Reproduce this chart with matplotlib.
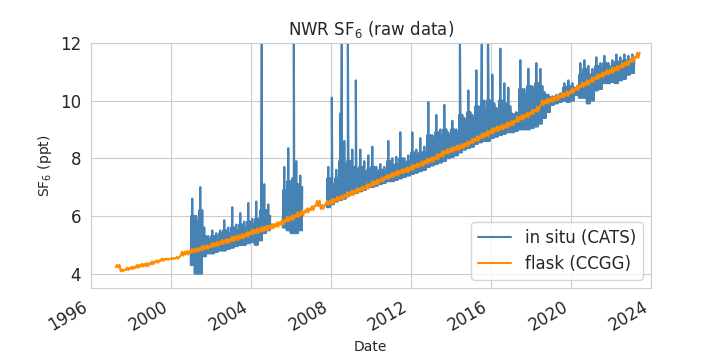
import numpy as np
import matplotlib
matplotlib.use("Agg")
import matplotlib.pyplot as plt
import seaborn as sns

# ---------------- data ----------------
# in situ (CATS): per 0.2-year bin, lower edge, typical upper edge of the dense band,
# and the highest excursion in the bin
insitu_year = [2001.0, 2001.2, 2001.4, 2001.6, 2001.8, 2002.0, 2002.2, 2002.4, 2002.6, 2002.8,
               2003.0, 2003.2, 2003.4, 2003.6, 2003.8, 2004.0, 2004.2, 2004.4, 2004.6, 2004.8,
               2005.6, 2005.8, 2006.0, 2006.2, 2006.4,
               2007.8, 2008.0, 2008.2, 2008.4, 2008.6, 2008.8, 2009.0, 2009.2, 2009.4, 2009.6,
               2009.8, 2010.0, 2010.2, 2010.4, 2010.6, 2010.8, 2011.0, 2011.2, 2011.4, 2011.6,
               2011.8, 2012.0, 2012.2, 2012.4, 2012.6, 2012.8, 2013.0, 2013.2, 2013.4, 2013.6,
               2013.8, 2014.0, 2014.2, 2014.4, 2014.6, 2014.8, 2015.0, 2015.2, 2015.4, 2015.6,
               2015.8, 2016.0, 2016.2, 2016.4, 2016.6, 2016.8, 2017.0, 2017.2, 2017.4, 2017.6,
               2017.8, 2018.0, 2018.2, 2018.4, 2018.6, 2018.8, 2019.0, 2019.2, 2019.4, 2019.6,
               2019.8, 2020.0, 2020.2, 2020.4, 2020.6, 2020.8, 2021.0, 2021.2, 2021.4, 2021.6,
               2021.8, 2022.0, 2022.2, 2022.4, 2022.6, 2022.8, 2023.0]
insitu_low = [4.3, 4.0, 4.0, 4.6, 4.7, 4.7, 4.75, 4.8, 4.8, 4.85,
              4.9, 4.95, 5.0, 5.0, 5.05, 5.1, 5.0, 5.15, 5.4, 5.5,
              5.6, 5.5, 5.4, 5.4, 5.5,
              6.3, 6.4, 6.5, 6.55, 6.6, 6.7, 6.75, 6.8, 6.85, 6.9,
              7.0, 7.0, 7.05, 7.1, 7.15, 7.2, 7.2, 7.25, 7.3, 7.35,
              7.4, 7.45, 7.5, 7.55, 7.6, 7.7, 7.75, 7.8, 7.85, 7.9,
              8.0, 8.05, 8.1, 8.2, 8.3, 8.35, 8.4, 8.5, 8.55, 8.6,
              8.6, 8.7, 8.75, 8.8, 8.85, 8.9, 8.9, 8.95, 9.0, 9.0,
              9.0, 9.05, 9.1, 9.2, 9.4, 9.6, 9.85, 9.9, 9.95, 10.0,
              9.95, 10.0, 10.2, 10.1, 10.1, 9.9, 10.0, 10.35, 10.4, 10.6,
              10.6, 10.65, 10.6, 10.7, 10.75, 10.9, 10.95]
insitu_typ = [6.0, 5.8, 6.2, 5.3, 5.2, 5.3, 5.3, 5.4, 5.5, 5.4,
              5.6, 5.5, 5.7, 5.6, 5.8, 5.7, 5.9, 5.8, 6.2, 6.0,
              6.9, 7.2, 6.9, 7.1, 7.0,
              7.3, 7.1, 7.3, 7.9, 7.8, 7.9, 7.7, 7.6, 7.7, 7.5,
              7.6, 7.7, 7.5, 7.6, 7.55, 7.9, 7.75, 7.8, 8.0, 7.85,
              7.9, 8.2, 8.1, 8.2, 8.2, 8.8, 8.7, 8.9, 8.8, 9.0,
              8.8, 9.0, 8.9, 9.5, 9.3, 9.6, 9.4, 9.8, 9.6, 9.7,
              10.0, 9.9, 9.7, 10.0, 9.9, 9.8, 9.5, 9.55, 10.4, 10.2,
              10.5, 10.4, 10.6, 10.5, 10.2, 10.1, 10.12, 10.15, 10.2, 10.45,
              10.5, 10.45, 10.4, 10.9, 11.1, 10.9, 10.9, 11.2, 11.1, 11.3,
              11.15, 11.2, 11.35, 11.3, 11.4, 11.35, 11.45]
insitu_high = [6.6, 6.0, 7.0, 5.6, 5.3, 5.5, 5.4, 5.5, 5.85, 5.6,
               6.3, 5.7, 6.1, 5.8, 6.45, 5.9, 6.5, 6.2, 7.1, 6.4,
               7.7, 8.35, 7.3, 7.9, 7.4,
               7.7, 7.4, 7.6, 9.55, 8.6, 9.0, 8.3, 8.0, 8.3, 7.9,
               8.1, 8.4, 7.7, 7.8, 7.7, 8.6, 8.0, 8.05, 8.9, 8.0,
               8.1, 8.9, 8.3, 8.7, 8.4, 9.95, 8.8, 9.5, 9.0, 9.85,
               8.9, 9.3, 9.0, 10.3, 9.4, 10.35, 9.5, 11.05, 9.8, 10.0,
               11.6, 10.9, 9.75, 11.8, 10.6, 10.45, 9.55, 9.6, 11.4, 10.4,
               11.1, 10.5, 11.3, 11.1, 10.3, 10.2, 10.15, 10.2, 10.25, 10.6,
               10.7, 10.6, 10.45, 11.3, 11.4, 11.2, 11.1, 11.5, 11.3, 11.55,
               11.3, 11.4, 11.6, 11.5, 11.6, 11.55, 11.6]
# isolated in situ spikes (those running off the top are clipped at 12)
spike_year = [2004.55, 2006.15, 2008.05, 2008.55, 2008.85, 2009.25, 2014.45, 2015.55, 2015.85]
spike_ppt = [13.0, 13.0, 10.1, 13.0, 13.0, 10.7, 13.0, 13.0, 13.0]

# flask (CCGG): per 0.25-year bin, lower and upper extent
flask_year = [1997.25, 1997.5, 1997.75, 1998.0, 1998.25, 1998.5, 1998.75, 1999.0, 1999.25, 1999.5,
              1999.75, 2000.0, 2000.25, 2000.5, 2000.75, 2001.0, 2001.25, 2001.5, 2001.75, 2002.0,
              2002.25, 2002.5, 2002.75, 2003.0, 2003.25, 2003.5, 2003.75, 2004.0, 2004.25, 2004.5,
              2004.75, 2005.0, 2005.25, 2005.5, 2005.75, 2006.0, 2006.25, 2006.5, 2006.75, 2007.0,
              2007.25, 2007.5, 2007.75, 2008.0, 2008.25, 2008.5, 2008.75, 2009.0, 2009.25, 2009.5,
              2009.75, 2010.0, 2010.25, 2010.5, 2010.75, 2011.0, 2011.25, 2011.5, 2011.75, 2012.0,
              2012.25, 2012.5, 2012.75, 2013.0, 2013.25, 2013.5, 2013.75, 2014.0, 2014.25, 2014.5,
              2014.75, 2015.0, 2015.25, 2015.5, 2015.75, 2016.0, 2016.25, 2016.5, 2016.75, 2017.0,
              2017.25, 2017.5, 2017.75, 2018.0, 2018.25, 2018.5, 2018.75, 2019.0, 2019.25, 2019.5,
              2019.75, 2020.0, 2020.25, 2020.5, 2020.75, 2021.0, 2021.25, 2021.5, 2021.75, 2022.0,
              2022.25, 2022.5, 2022.75, 2023.0, 2023.25]
flask_low = [4.22, 4.08, 4.12, 4.16, 4.20, 4.24, 4.26, 4.32, 4.38, 4.44,
             4.48, 4.50, 4.52, 4.62, 4.66, 4.72, 4.76, 4.82, 4.86, 4.92,
             4.96, 5.02, 5.06, 5.12, 5.16, 5.22, 5.28, 5.36, 5.40, 5.46,
             5.50, 5.56, 5.62, 5.70, 5.80, 5.86, 5.96, 6.02, 6.12, 6.20,
             6.34, 6.24, 6.38, 6.42, 6.52, 6.58, 6.66, 6.72, 6.80, 6.88,
             6.94, 7.04, 7.10, 7.20, 7.28, 7.34, 7.40, 7.48, 7.52, 7.60,
             7.68, 7.74, 7.82, 7.88, 7.96, 8.06, 8.16, 8.22, 8.28, 8.34,
             8.42, 8.52, 8.60, 8.70, 8.76, 8.86, 8.94, 9.00, 9.06, 9.14,
             9.26, 9.34, 9.42, 9.52, 9.62, 9.84, 9.90, 9.96, 10.02, 10.10,
             10.16, 10.26, 10.36, 10.46, 10.54, 10.64, 10.74, 10.82, 10.90, 10.96,
             11.04, 11.14, 11.22, 11.34, 11.48]
flask_high = [4.30, 4.14, 4.20, 4.24, 4.30, 4.34, 4.36, 4.42, 4.46, 4.52,
              4.52, 4.54, 4.58, 4.76, 4.78, 4.86, 4.88, 4.96, 4.98, 5.06,
              5.10, 5.16, 5.20, 5.28, 5.32, 5.38, 5.44, 5.52, 5.56, 5.62,
              5.66, 5.72, 5.78, 5.86, 5.96, 6.02, 6.12, 6.18, 6.26, 6.34,
              6.52, 6.38, 6.52, 6.58, 6.66, 6.72, 6.82, 6.88, 6.96, 7.02,
              7.10, 7.20, 7.26, 7.34, 7.42, 7.50, 7.56, 7.62, 7.68, 7.76,
              7.82, 7.90, 7.98, 8.04, 8.14, 8.24, 8.32, 8.38, 8.44, 8.50,
              8.58, 8.68, 8.76, 8.86, 8.94, 9.04, 9.10, 9.16, 9.24, 9.30,
              9.44, 9.50, 9.58, 9.68, 9.78, 10.00, 10.06, 10.12, 10.18, 10.26,
              10.32, 10.42, 10.52, 10.62, 10.70, 10.80, 10.90, 10.98, 11.06, 11.14,
              11.20, 11.30, 11.38, 11.50, 11.66]

x_ticks = [1996, 2000, 2004, 2008, 2012, 2016, 2020, 2024]
y_ticks = [4, 6, 8, 10, 12]


def build_trace(years, width, columns, extra_t=(), extra_v=(), gap=0.5):
    """Walk through each bin visiting the read values in the given column order."""
    years = np.asarray(years, float)
    n = len(columns)
    offs = np.arange(n) * width / n
    t = (years[:, None] + offs[None, :]).ravel()
    v = np.column_stack([np.asarray(c, float) for c in columns]).ravel()
    t = np.concatenate([t, np.asarray(extra_t, float)])
    v = np.concatenate([v, np.asarray(extra_v, float)])
    order = np.argsort(t, kind="stable")
    t, v = t[order], v[order]
    breaks = np.where(np.diff(t) > gap)[0]
    t = np.insert(t, breaks + 1, np.nan)
    v = np.insert(v, breaks + 1, np.nan)
    return t, v


sns.set_style("whitegrid")
plt.rcParams["font.family"] = ["DejaVu Sans"]

fig = plt.figure(figsize=(7.2, 3.6), dpi=100)
ax = fig.add_axes([0.126, 0.2, 0.778, 0.681])

lo, ty, hi = insitu_low, insitu_typ, insitu_high
ti, vi = build_trace(insitu_year, 0.2, [lo, ty, lo, hi, lo, ty, lo, ty],
                     spike_year, spike_ppt)
tf, vf = build_trace(flask_year, 0.25, [flask_low, flask_high, flask_low, flask_high])

ax.plot(ti, vi, color="steelblue", lw=1.5, label="in situ (CATS)")
ax.plot(tf, vf, color="darkorange", lw=1.5, label="flask (CCGG)")

ax.set_xlim(1996, 2024)
ax.set_ylim(3.5, 12)
ax.set_xticks(x_ticks)
ax.set_xticklabels([str(x) for x in x_ticks], rotation=30, ha="right", fontsize=12)
ax.set_yticks(y_ticks)
ax.set_yticklabels([str(y) for y in y_ticks], fontsize=12)

ax.set_title("NWR SF$_6$ (raw data)", fontsize=12)
ax.set_ylabel("SF$_6$ (ppt)", fontsize=10)
ax.set_xlabel("Date", fontsize=10)
ax.legend(loc="lower right", fontsize=12)

fig.savefig("out.png", dpi=100)
